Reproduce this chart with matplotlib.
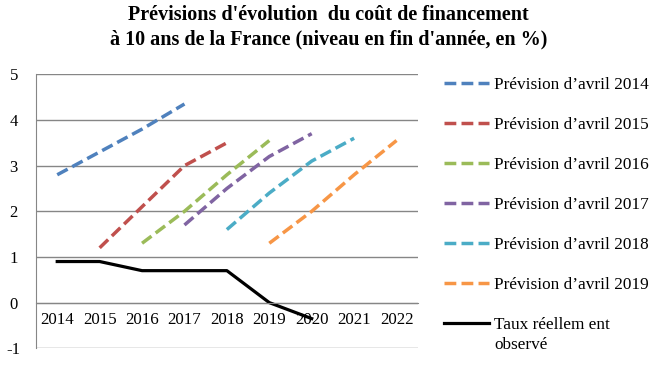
import matplotlib
matplotlib.use("Agg")
import matplotlib.pyplot as plt

years = ["2014", "2015", "2016", "2017", "2018", "2019", "2020", "2021", "2022"]
labels = ["Prévision d’avril 2014", "Prévision d’avril 2015", "Prévision d’avril 2016",
          "Prévision d’avril 2017", "Prévision d’avril 2018", "Prévision d’avril 2019"]
start_idx = [0, 1, 2, 3, 4, 5]
prev_2014 = [2.8, 3.3, 3.8, 4.35]
prev_2015 = [1.2, 2.1, 3.0, 3.5]
prev_2016 = [1.3, 2.0, 2.8, 3.55]
prev_2017 = [1.7, 2.5, 3.2, 3.7]
prev_2018 = [1.6, 2.4, 3.1, 3.6]
prev_2019 = [1.3, 2.0, 2.8, 3.55]
observed = [0.9, 0.9, 0.7, 0.7, 0.7, 0.0, -0.35]
observed_label_1 = "Taux réellem ent"
observed_label_2 = "observé"
colors = ["#4F81BD", "#C0504D", "#9BBB59", "#8064A2", "#4BACC6", "#F79646"]

plt.rcParams["font.family"] = ["Liberation Serif", "DejaVu Serif"]

fig = plt.figure(figsize=(6.61, 3.65), dpi=100)
ax = fig.add_axes([0.0545, 0.0458, 0.5775, 0.7506])

for sp in ["top", "right"]:
    ax.spines[sp].set_visible(False)
ax.spines["bottom"].set_position(("data", 0))
ax.spines["bottom"].set_color("#868686")
ax.spines["left"].set_color("#868686")

series = [prev_2014, prev_2015, prev_2016, prev_2017, prev_2018, prev_2019]
for s, vals, c, lab in zip(start_idx, series, colors, labels):
    xs = list(range(s, s + len(vals)))
    ax.plot(xs, vals, color=c, lw=2.5, dashes=(3.4, 1.5), label=lab,
            solid_capstyle="butt", dash_capstyle="butt")
ax.plot(range(len(observed)), observed, color="black", lw=2.3, label=observed_label_1)

ax.set_xlim(-0.5, len(years) - 0.5)
ax.set_ylim(-1, 5)
ax.set_yticks(range(-1, 6))
ax.set_yticklabels([str(v) for v in range(-1, 6)])
ax.set_xticks(range(len(years)))
ax.set_xticklabels(years)
ax.tick_params(axis="x", length=0, pad=7, labelsize=12.2)
ax.tick_params(axis="y", length=0, pad=16, labelsize=12)
ax.grid(axis="y", color="#868686", lw=1)
ax.set_axisbelow(True)
for lbl in ax.get_yticklabels():
    lbl.set_horizontalalignment("center")

fig.text(0.497, 0.985, "Prévisions d'évolution  du coût de financement\nà 10 ans de la France (niveau en fin d'année, en %)",
         ha="center", va="top", fontsize=14.5, fontweight="bold", linespacing=1.3)

leg = ax.legend(loc="upper left", bbox_to_anchor=(0.662, 0.808), bbox_transform=fig.transFigure,
                frameon=False, fontsize=12.4, handlelength=2.6, handletextpad=0.3,
                labelspacing=1.39, borderaxespad=0)

fig.canvas.draw()
last = leg.get_texts()[-1]
bb = last.get_window_extent().transformed(fig.transFigure.inverted())
fig.text(bb.x0, bb.y0 - 0.012, observed_label_2, ha="left", va="top", fontsize=12.4)

fig.savefig("out.png", dpi=100)
